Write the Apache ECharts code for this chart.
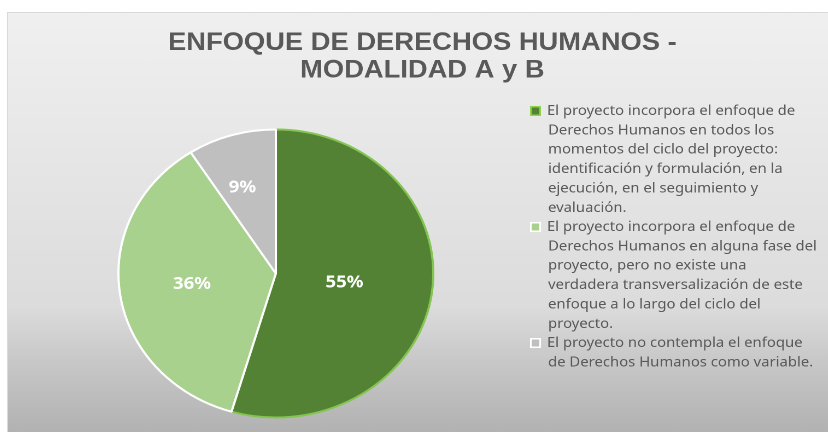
<!DOCTYPE html>
<html>
<head>
<meta charset="utf-8">
<script src="https://cdn.jsdelivr.net/npm/echarts@6/dist/echarts.min.js"></script>
<style>
  html, body { margin: 0; padding: 0; background: #fff; }
  /* marco del gráfico (la imagen original está estirada en horizontal) */
  .frame {
    position: absolute; left: 7px; top: 12px;
    width: 821px; height: 420px;
    border-left: 1px solid #d9d9d9; border-top: 1px solid #d9d9d9;
    box-sizing: border-box; overflow: hidden;
  }
  #chart {
    width: 751px; height: 419px;
    transform: scaleX(1.0932); transform-origin: 0 0;
  }
</style>
</head>
<body>
<div class="frame"><div id="chart"></div></div>
<script>
// datos
const titleLines = ["ENFOQUE DE DERECHOS HUMANOS -", "MODALIDAD A y B"];
const categoryLines = [
  [
    "El proyecto incorpora el enfoque de",
    "Derechos Humanos en todos los",
    "momentos del ciclo del proyecto:",
    "identificación y formulación, en la",
    "ejecución, en el seguimiento y",
    "evaluación.",
  ],
  [
    "El proyecto incorpora el enfoque de",
    "Derechos Humanos en alguna fase del",
    "proyecto, pero no existe una",
    "verdadera transversalización de este",
    "enfoque a lo largo del ciclo del",
    "proyecto.",
  ],
  [
    "El proyecto no contempla el enfoque",
    "de Derechos Humanos como variable.",
  ],
];
const categories = categoryLines.map((l) => l.join(" "));
const values = [6, 4, 1];

// estilos
const colors = ["#548235", "#a9d18e", "#bfbfbf"];
const edgeColors = ["#84c450", "#ffffff", "#ffffff"];
const labelPad = [
  [0, 23, 3, 0],
  [0, 5, 0, 0],
  [0, 19, 28, 0],
];
const textColor = "#595959";
const lineH = 19.4;

const rich = {
  t: { fontFamily: "Noto Sans", fontSize: 13.6, color: textColor, lineHeight: lineH },
  g: { width: 7, lineHeight: lineH },
  ind: { width: 15, lineHeight: lineH },
};
colors.forEach((c, i) => {
  rich["m" + i] = {
    width: 7,
    height: 7,
    backgroundColor: c,
    borderColor: i === 0 ? "#8fd14f" : "#ffffff",
    borderWidth: 1.5,
    verticalAlign: "middle",
  };
});

const labelRich = {};
labelPad.forEach((p, i) => {
  labelRich["v" + i] = {
    fontFamily: "Noto Sans",
    fontSize: 17,
    fontWeight: "bold",
    color: "#ffffff",
    padding: p,
  };
});

const chart = echarts.init(document.getElementById("chart"), null, {
  devicePixelRatio: 2,
});

chart.setOption({
  animation: false,
  backgroundColor: new echarts.graphic.LinearGradient(0, 0, 0, 1, [
    { offset: 0, color: "#f0f0f0" },
    { offset: 0.7, color: "#dcdcdc" },
    { offset: 0.83, color: "#c8c8c8" },
    { offset: 1, color: "#b2b2b2" },
  ]),
  title: {
    text: titleLines.join("\n"),
    left: 379,
    top: 16.5,
    textAlign: "center",
    padding: 0,
    textStyle: {
      fontFamily: "Liberation Sans",
      fontSize: 25,
      fontWeight: "bold",
      color: textColor,
      lineHeight: 27.5,
    },
  },
  legend: {
    orient: "vertical",
    left: 473,
    top: 91,
    padding: 0,
    itemGap: 5,
    itemWidth: 0,
    itemHeight: 0,
    selectedMode: false,
    data: categories,
    formatter: (name) => {
      const i = categories.indexOf(name);
      const lines = categoryLines[i];
      let s = "{m" + i + "|}{g|}{t|" + lines[0] + "}";
      lines.slice(1).forEach((l) => {
        s += "\n{ind|}{t|" + l + "}";
      });
      return s;
    },
    textStyle: { rich: rich },
  },
  series: [
    {
      type: "pie",
      center: [245, 260.5],
      radius: 144,
      startAngle: 90,
      clockwise: true,
      silent: true,
      label: {
        show: true,
        position: "inside",
        formatter: (p) => "{v" + p.dataIndex + "|" + Math.round(p.percent) + "%}",
        rich: labelRich,
      },
      labelLine: { show: false },
      data: values.map((v, i) => ({
        name: categories[i],
        value: v,
        itemStyle: { color: colors[i], borderColor: edgeColors[i], borderWidth: 2 },
      })),
    },
  ],
});
</script>
</body>
</html>
